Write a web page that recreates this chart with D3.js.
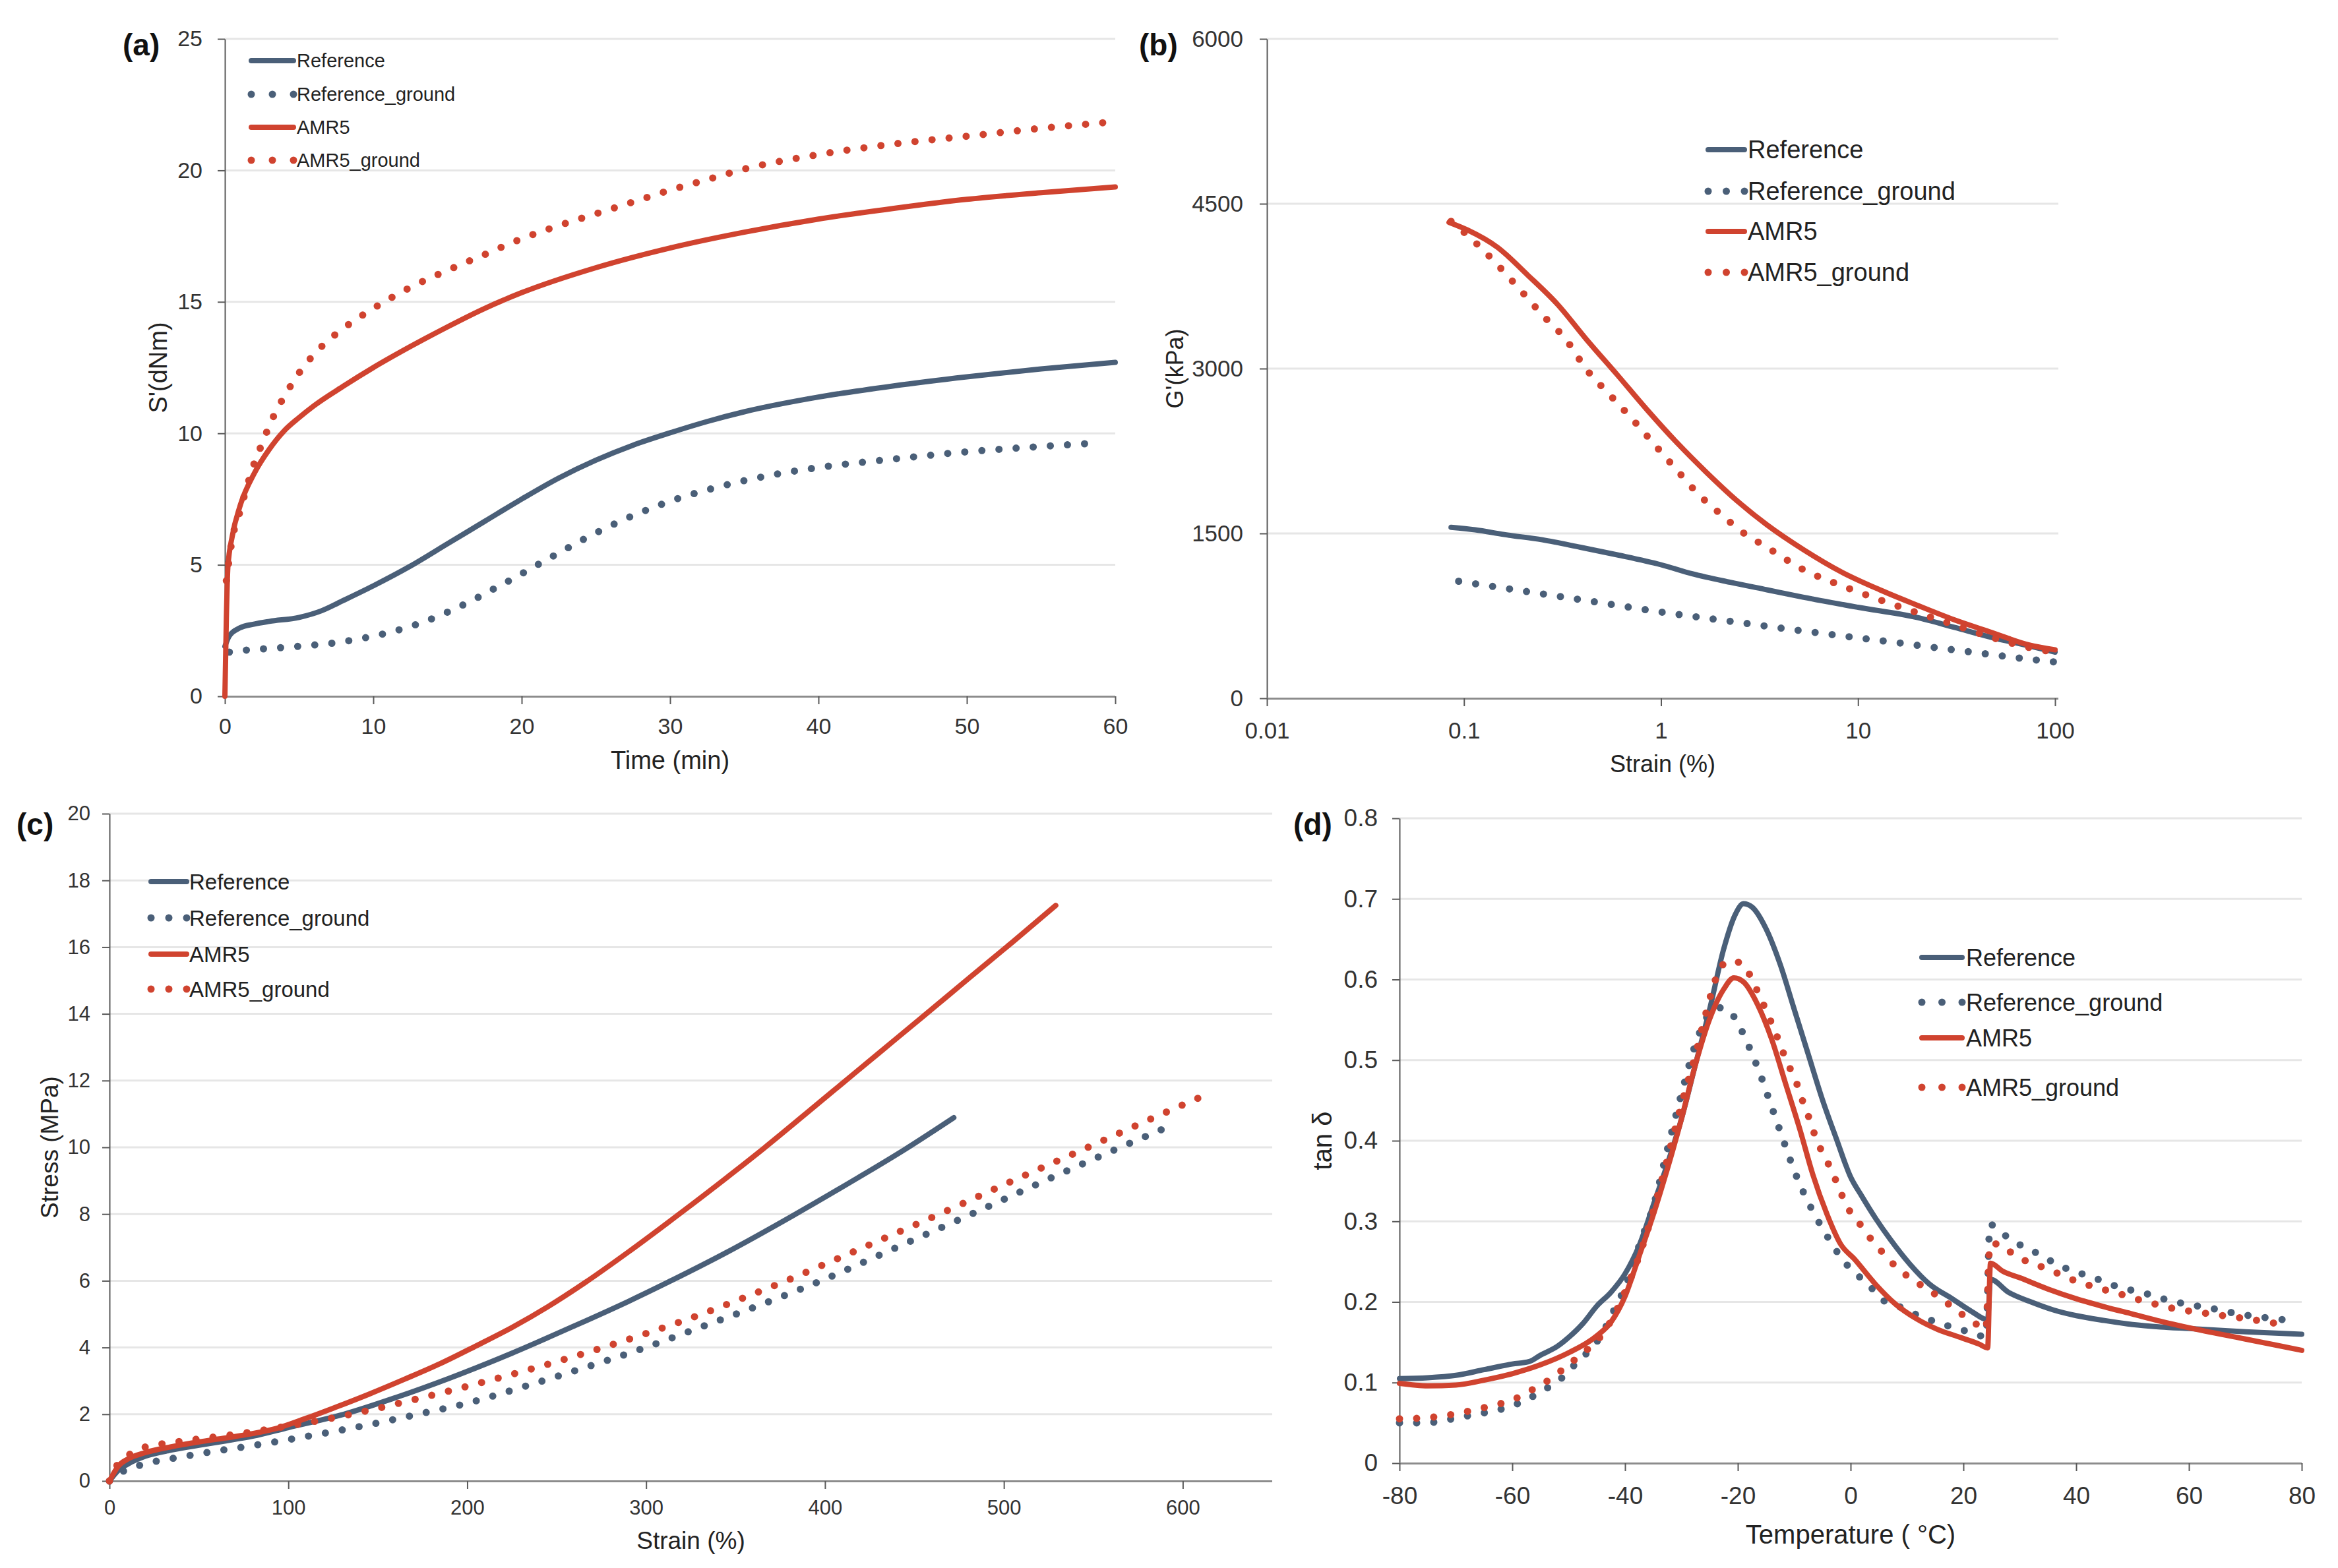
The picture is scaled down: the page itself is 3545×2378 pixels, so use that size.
<!DOCTYPE html>
<html>
<head>
<meta charset="utf-8">
<title>Reference vs AMR5 - cure, strain sweep, tensile and DMA</title>
<script src="https://d3js.org/d3.v7.min.js"></script>
<style>
  html, body { margin: 0; padding: 0; background: #fff; }
  svg { display: block; font-family: "Liberation Sans", Arial, Helvetica, sans-serif; }
</style>
</head>
<body>
<svg id="chart" width="3545" height="2378"></svg>
<script>
// legend order, same in every panel
const seriesNames = ["Reference", "Reference_ground", "AMR5", "AMR5_ground"];
const seriesColors = ["#4a5f78", "#4a5f78", "#d0432f", "#d0432f"];
const seriesDotted = [false, true, false, true];

// ---- (a) cure curves: time (min) vs S' (dNm)
const aTicksX = [0, 10, 20, 30, 40, 50, 60];
const aTicksY = [0, 5, 10, 15, 20, 25];
const aRef = [[0,1.9],[0.3,2.3],[1,2.6],[2,2.75],[3,2.85],[5,3.0],[6.5,3.25],[8,3.65],[10,4.2],[12.5,4.95],[15,5.8],[17.5,6.65],[20,7.5],[22.5,8.3],[25,8.98],[27.5,9.55],[30,10.02],[32.5,10.45],[35,10.82],[40,11.38],[45,11.8],[50,12.15],[55,12.45],[60,12.7]];
const aRefGround = [[0.3,1.68],[1.5,1.76],[3,1.82],[4.5,1.88],[6,1.95],[7.5,2.04],[9,2.18],[10.5,2.35],[12,2.57],[13.5,2.85],[15,3.2],[16.5,3.6],[18,4.05],[19.5,4.5],[21,4.98],[22.5,5.45],[24,5.92],[25.5,6.35],[27,6.75],[28.5,7.1],[30,7.42],[32.5,7.85],[35,8.2],[37.5,8.48],[40,8.7],[45,9.02],[50,9.3],[55,9.5],[59,9.64]];
const aAmr5 = [[0,0],[0.1,3.0],[0.2,4.9],[0.5,6.1],[1,7.2],[2,8.5],[3,9.4],[4,10.1],[5,10.6],[6,11.05],[8,11.8],[10,12.5],[12.5,13.3],[15,14.05],[17.5,14.75],[20,15.35],[25,16.3],[30,17.05],[35,17.65],[40,18.15],[45,18.55],[50,18.9],[55,19.15],[60,19.37]];
const aAmr5Ground = [[0.1,4.4],[0.5,6.0],[1,7.0],[1.5,8.0],[2,8.9],[2.5,9.6],[3,10.3],[3.5,10.9],[4,11.4],[5,12.3],[6,13.0],[7,13.55],[8,14.0],[10,14.75],[12.5,15.55],[15,16.2],[17.5,16.8],[20,17.4],[22.5,17.9],[25,18.35],[27.5,18.8],[30,19.25],[32.5,19.65],[35,20.05],[40,20.6],[45,21.0],[50,21.3],[55,21.6],[60,21.85]];

// ---- (b) strain sweep: strain (%) vs G' (kPa), log x
const bTicksX = [0.01, 0.1, 1, 10, 100];
const bTicksY = [0, 1500, 3000, 4500, 6000];
const bRef = [[0.086,1556],[0.114,1533],[0.16,1490],[0.25,1442],[0.39,1374],[0.6,1305],[1,1215],[1.44,1133],[2.25,1055],[3.45,987],[5.3,919],[10,828],[19.7,737],[30.8,646],[47.5,555],[73.3,478],[100,420]];
const bRefGround = [[0.094,1065],[0.15,1010],[0.25,950],[0.4,895],[0.63,840],[1,785],[1.6,735],[2.5,690],[4,640],[6.3,595],[10,550],[16,505],[25,460],[40,415],[63,370],[100,330]];
const bAmr5 = [[0.084,4331],[0.104,4262],[0.148,4103],[0.21,3853],[0.3,3580],[0.42,3262],[0.6,2943],[0.85,2625],[1.2,2329],[1.7,2056],[2.4,1806],[3.45,1578],[5.3,1351],[8.3,1146],[12.9,987],[19.7,851],[30.8,714],[47.5,600],[73.3,487],[100,441]];
const bAmr5Ground = [[0.086,4340],[0.114,4149],[0.148,3944],[0.193,3716],[0.25,3489],[0.33,3262],[0.42,2989],[0.55,2761],[0.72,2534],[0.93,2306],[1.2,2079],[1.56,1851],[2.03,1669],[2.6,1510],[3.45,1374],[5.3,1169],[8.3,1023],[12.9,896],[19.7,782],[30.8,669],[47.5,555],[73.3,464],[100,418]];

// ---- (c) tensile: strain (%) vs stress (MPa)
const cTicksX = [0, 100, 200, 300, 400, 500, 600];
const cTicksY = [0, 2, 4, 6, 8, 10, 12, 14, 16, 18, 20];
const cRef = [[0,0],[5,0.32],[10,0.5],[20,0.74],[35,0.93],[50,1.07],[65,1.2],[80,1.34],[100,1.6],[131,2.0],[160,2.5],[190,3.08],[225,3.83],[260,4.65],[290,5.38],[312,5.95],[345,6.85],[382,7.95],[415,8.98],[445,9.95],[472,10.89]];
const cRefGround = [[0,0],[8,0.3],[19,0.5],[40,0.72],[60,0.9],[80,1.06],[100,1.24],[125,1.48],[150,1.74],[175,2.03],[200,2.33],[230,2.8],[260,3.3],[297,3.95],[330,4.6],[365,5.3],[400,6.05],[440,7.0],[484,8.05],[525,9.05],[566,10.02],[596,10.71]];
const cAmr5 = [[0,0],[5,0.45],[10,0.65],[20,0.85],[35,1.03],[50,1.17],[65,1.29],[80,1.42],[95,1.6],[110,1.88],[125,2.18],[145,2.6],[165,3.05],[185,3.52],[205,4.05],[225,4.6],[245,5.22],[266,5.95],[290,6.86],[320,8.06],[345,9.09],[366,9.98],[390,11.04],[410,11.93],[430,12.82],[455,13.93],[480,15.05],[505,16.16],[529,17.25]];
const cAmr5Ground = [[0,0],[4.6,0.5],[10,0.75],[19,1.0],[35,1.15],[50,1.26],[65,1.36],[83,1.5],[100,1.65],[121,1.85],[142,2.08],[165,2.37],[190,2.7],[215,3.05],[240,3.42],[270,3.9],[300,4.42],[330,4.98],[355,5.5],[376,5.95],[400,6.5],[430,7.2],[464,8.0],[505,9.0],[547,10.0],[580,10.8],[614,11.6]];

// ---- (d) DMA: temperature (°C) vs tan delta
const dTicksX = [-80, -60, -40, -20, 0, 20, 40, 60, 80];
const dTicksY = [0, 0.1, 0.2, 0.3, 0.4, 0.5, 0.6, 0.7, 0.8];
const dRef = [[-80,0.105],[-75,0.106],[-70,0.109],[-65,0.116],[-60,0.123],[-57,0.126],[-55,0.134],[-52,0.145],[-50,0.156],[-47.5,0.173],[-45,0.195],[-42.5,0.212],[-40,0.235],[-37.5,0.27],[-35,0.32],[-32.5,0.371],[-30,0.427],[-27.5,0.495],[-25,0.563],[-22.5,0.638],[-20.5,0.68],[-19,0.694],[-17.5,0.69],[-15,0.663],[-12.5,0.619],[-10,0.563],[-7.5,0.507],[-5,0.451],[-2.5,0.402],[0,0.355],[2,0.331],[4.5,0.303],[7,0.278],[10.5,0.247],[14,0.222],[18,0.204],[21.5,0.188],[24.3,0.178],[24.8,0.228],[28,0.212],[32,0.2],[36,0.19],[40,0.183],[45,0.177],[50,0.172],[55,0.169],[60,0.167],[70,0.163],[80,0.16]];
const dRefGround = [[-80,0.05],[-76.7,0.05],[-73.6,0.051],[-70,0.056],[-66.9,0.06],[-63.8,0.064],[-60.5,0.07],[-57.4,0.079],[-54.6,0.09],[-51.5,0.104],[-48.8,0.123],[-46.6,0.138],[-44.1,0.16],[-42.3,0.185],[-39.8,0.222],[-37.4,0.272],[-34.9,0.321],[-32.5,0.389],[-30,0.458],[-27.5,0.52],[-25,0.558],[-23,0.565],[-20.5,0.552],[-19,0.532],[-17.5,0.508],[-16,0.482],[-14.5,0.452],[-13,0.422],[-11.5,0.392],[-10,0.363],[-8.3,0.335],[-6.5,0.31],[-4.9,0.29],[-3.3,0.272],[-1.8,0.256],[0,0.241],[3.1,0.222],[5.6,0.203],[8.7,0.194],[11.7,0.184],[14.8,0.176],[17.9,0.169],[20.9,0.163],[24,0.157],[24.7,0.296],[27.7,0.281],[30.5,0.269],[33.5,0.259],[36.5,0.247],[39.6,0.238],[42.8,0.231],[46,0.222],[49,0.216],[52.6,0.21],[55.9,0.203],[59,0.198],[62.3,0.194],[65.5,0.19],[68.8,0.185],[71.9,0.182],[75.5,0.179],[79,0.176]];
const dAmr5 = [[-80,0.099],[-75,0.096],[-70,0.097],[-65,0.103],[-60,0.111],[-55,0.122],[-50,0.137],[-45,0.158],[-42.5,0.175],[-40,0.207],[-37.5,0.257],[-35,0.308],[-32.5,0.365],[-30,0.427],[-27.5,0.495],[-25,0.551],[-22.5,0.588],[-20.7,0.602],[-19,0.597],[-16.5,0.569],[-14,0.526],[-11.5,0.47],[-9,0.414],[-6.7,0.358],[-4.2,0.309],[-1.8,0.272],[0.7,0.253],[4.4,0.222],[8,0.197],[11.7,0.179],[15.4,0.166],[19,0.157],[22.7,0.148],[24.3,0.143],[24.8,0.248],[27,0.238],[30,0.23],[35,0.216],[40,0.204],[45,0.194],[50,0.185],[55,0.176],[60,0.168],[70,0.154],[80,0.14]];
const dAmr5Ground = [[-80,0.055],[-76,0.056],[-73,0.058],[-69.5,0.062],[-66.2,0.067],[-63.2,0.072],[-60.1,0.078],[-57,0.089],[-54,0.101],[-50.9,0.117],[-47.8,0.135],[-44.7,0.154],[-42.3,0.179],[-39.8,0.216],[-37.4,0.259],[-34.9,0.315],[-32.5,0.377],[-30,0.445],[-27.5,0.507],[-25.7,0.557],[-23.8,0.603],[-21.7,0.623],[-19.2,0.62],[-17.5,0.6],[-16.1,0.579],[-14.7,0.557],[-13.2,0.532],[-12,0.51],[-10.7,0.489],[-9.5,0.47],[-8.3,0.445],[-7.3,0.427],[-6.1,0.402],[-4.6,0.38],[-3.3,0.362],[-2,0.34],[-0.6,0.318],[1.5,0.298],[3.5,0.279],[5.6,0.262],[8,0.244],[10.9,0.228],[13.6,0.216],[16.3,0.203],[19.1,0.188],[22.4,0.172],[24,0.166],[24.7,0.272],[26.2,0.272],[28.9,0.259],[32,0.248],[35,0.241],[38.1,0.231],[41.2,0.223],[44.6,0.216],[47.7,0.21],[51,0.203],[54.2,0.197],[57.2,0.192],[60.7,0.188],[64,0.185],[67.1,0.182],[70.5,0.179],[73.9,0.175],[77,0.172]];

// layout of the four panels (pixels)
const panels = [
  { label: "(a)", labelX: 186, labelY: 84,
    series: [aRef, aRefGround, aAmr5, aAmr5Ground],
    xDomain: [0, 60], yDomain: [0, 25], xTicks: aTicksX, yTicks: aTicksY,
    left: 341, right: 1691, top: 59, bottom: 1056, gridRight: 1691,
    tickFont: 34, yPad: 23, xLabelDy: 57,
    xTitle: "Time (min)", xTitleY: 1166, yTitle: "S'(dNm)", yTitleX: 240, titleFont: 38,
    legend: { x0: 381, x1: 445, tx: 450, rows: [92, 143, 193, 243], font: 29 } },
  { label: "(b)", labelX: 1727, labelY: 84, log: true,
    series: [bRef, bRefGround, bAmr5, bAmr5Ground],
    xDomain: [0.01, 100], yDomain: [0, 6000], xTicks: bTicksX, yTicks: bTicksY,
    left: 1921, right: 3116, top: 59, bottom: 1059, gridRight: 3121,
    tickFont: 35, yPad: 25, xLabelDy: 61,
    xTitle: "Strain (%)", xTitleY: 1171, yTitle: "G'(kPa)", yTitleX: 1781, titleFont: 36,
    legend: { x0: 2590, x1: 2645, tx: 2650, rows: [227, 290, 351, 413], font: 38 } },
  { label: "(c)", labelX: 25, labelY: 1266,
    series: [cRef, cRefGround, cAmr5, cAmr5Ground],
    xDomain: [0, 650], yDomain: [0, 20], xTicks: cTicksX, yTicks: cTicksY,
    left: 166, right: 1929, top: 1234, bottom: 2246, gridRight: 1929,
    tickFont: 31, yPad: 18, xLabelDy: 51,
    xTitle: "Strain (%)", xTitleY: 2349, yTitle: "Stress (MPa)", yTitleX: 75, titleFont: 37,
    legend: { x0: 229, x1: 283, tx: 287, rows: [1337, 1392, 1447, 1500], font: 33 } },
  { label: "(d)", labelX: 1961, labelY: 1266,
    series: [dRef, dRefGround, dAmr5, dAmr5Ground],
    xDomain: [-80, 80], yDomain: [0, 0.8], xTicks: dTicksX, yTicks: dTicksY,
    left: 2122, right: 3490, top: 1241, bottom: 2219, gridRight: 3490,
    tickFont: 37, yPad: 22, xLabelDy: 62,
    xTitle: "Temperature ( °C)", xTitleY: 2341, yTitle: "tan δ", yTitleX: 2005, titleFont: 40,
    legend: { x0: 2914, x1: 2975, tx: 2981, rows: [1452, 1520, 1574, 1649], font: 36, boxed: true } }
];

const svg = d3.select("#chart");
svg.append("rect").attr("width", 3545).attr("height", 2378).attr("fill", "#fff");

function drawPanel(p) {
  const g = svg.append("g");
  const x = (p.log ? d3.scaleLog() : d3.scaleLinear()).domain(p.xDomain).range([p.left, p.right]);
  const y = d3.scaleLinear().domain(p.yDomain).range([p.bottom, p.top]);

  // horizontal gridlines
  g.append("g").selectAll("line")
    .data(p.yTicks.filter(v => v !== 0))
    .join("line")
    .attr("x1", p.left).attr("x2", p.gridRight)
    .attr("y1", d => y(d)).attr("y2", d => y(d))
    .attr("stroke", "#e6e6e6").attr("stroke-width", 3);

  // y axis
  const yAxis = g.append("g")
    .attr("transform", `translate(${p.left},0)`)
    .call(d3.axisLeft(y).tickValues(p.yTicks).tickSize(11).tickSizeOuter(0)
      .tickPadding(p.yPad).tickFormat(d => String(d)));
  yAxis.select(".domain").attr("stroke", "#5a5a5a").attr("stroke-width", 2);
  yAxis.selectAll(".tick line").attr("stroke", "#5a5a5a").attr("stroke-width", 2);
  yAxis.selectAll(".tick text").attr("font-size", p.tickFont).attr("fill", "#333")
    .attr("font-family", null);

  // x axis
  const xAxis = g.append("g")
    .attr("transform", `translate(0,${p.bottom})`)
    .call(d3.axisBottom(x).tickValues(p.xTicks).tickSize(12).tickSizeOuter(0)
      .tickFormat(d => String(d)));
  xAxis.select(".domain").attr("stroke", "#8c8c8c").attr("stroke-width", 3)
    .attr("d", `M${p.left},0.5H${p.gridRight}`);
  xAxis.selectAll(".tick line").attr("stroke", "#5a5a5a").attr("stroke-width", 2);
  xAxis.selectAll(".tick text").attr("font-size", p.tickFont).attr("fill", "#333")
    .attr("font-family", null).attr("y", p.xLabelDy).attr("dy", 0);

  // axis titles
  g.append("text")
    .attr("x", (p.left + p.gridRight) / 2).attr("y", p.xTitleY)
    .attr("text-anchor", "middle").attr("font-size", p.titleFont).attr("fill", "#222")
    .text(p.xTitle);
  g.append("text")
    .attr("transform", `translate(${p.yTitleX},${(p.top + p.bottom) / 2}) rotate(-90)`)
    .attr("text-anchor", "middle").attr("dy", "0.35em")
    .attr("font-size", p.titleFont).attr("fill", "#222")
    .text(p.yTitle);

  // panel label
  g.append("text")
    .attr("x", p.labelX).attr("y", p.labelY)
    .attr("font-size", 46).attr("font-weight", "bold").attr("fill", "#111")
    .text(p.label);

  // curves
  const line = d3.line().x(d => x(d[0])).y(d => y(d[1])).curve(d3.curveMonotoneX);
  p.series.forEach((data, i) => {
    g.append("path")
      .datum(data)
      .attr("fill", "none")
      .attr("stroke", seriesColors[i])
      .attr("stroke-width", seriesDotted[i] ? 11 : 8)
      .attr("stroke-linecap", "round")
      .attr("stroke-linejoin", "round")
      .attr("stroke-dasharray", seriesDotted[i] ? "0 26" : null)
      .attr("d", line);
  });

  // legend
  const L = p.legend;
  const items = g.append("g").selectAll("g")
    .data(seriesNames)
    .join("g")
    .attr("transform", (d, i) => `translate(0,${L.rows[i]})`);
  items.append("text")
    .attr("x", L.tx).attr("dy", "0.35em")
    .attr("font-size", L.font).attr("fill", "#222")
    .text(d => d);
  if (L.boxed) {
    items.each(function () {
      const it = d3.select(this);
      const bb = it.select("text").node().getBBox();
      it.insert("rect", "text")
        .attr("x", L.x0 - 26).attr("y", bb.y - 8)
        .attr("width", bb.x + bb.width - L.x0 + 52).attr("height", bb.height + 16)
        .attr("fill", "#fff");
    });
  }
  items.filter((d, i) => !seriesDotted[i]).append("line")
    .attr("x1", L.x0).attr("x2", L.x1)
    .attr("stroke", (d, i) => seriesColors[seriesNames.indexOf(d)])
    .attr("stroke-width", 8)
    .attr("stroke-linecap", "round");
  items.filter((d, i) => seriesDotted[i]).each(function (d) {
    const c = seriesColors[seriesNames.indexOf(d)];
    d3.select(this).selectAll("circle")
      .data([L.x0, (L.x0 + L.x1) / 2, L.x1])
      .join("circle")
      .attr("cx", v => v).attr("cy", 0).attr("r", 5.5)
      .attr("fill", c);
  });
}

panels.forEach(drawPanel);
</script>
</body>
</html>
